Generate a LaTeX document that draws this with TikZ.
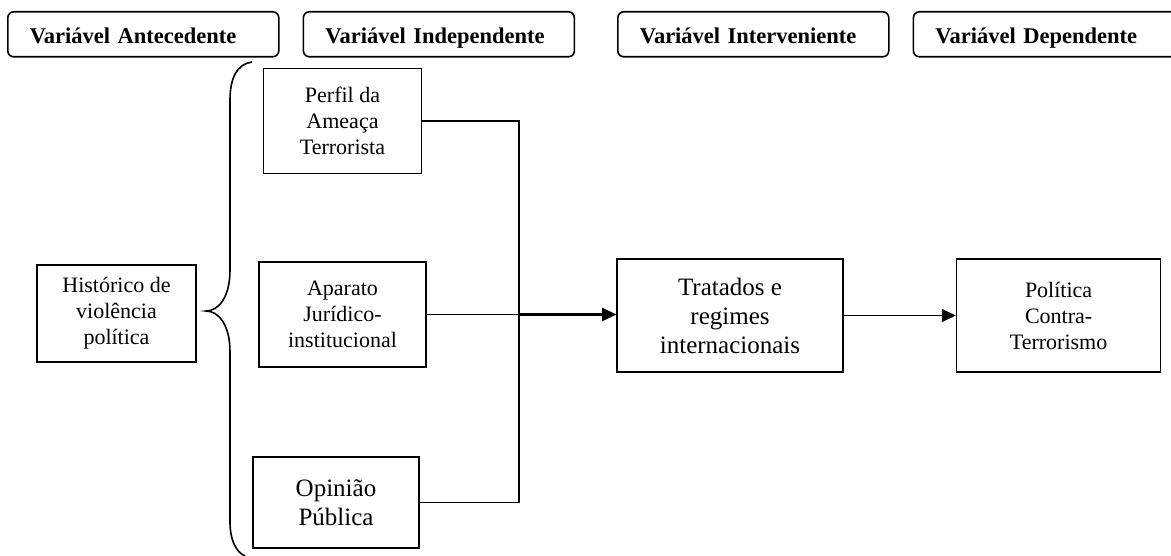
\documentclass[tikz,border=0pt]{standalone}
\usepackage{fontspec}
\setmainfont{Liberation Serif}
\usetikzlibrary{arrows.meta,positioning}
\begin{document}
\begin{tikzpicture}[x=1pt,y=-1pt,>={Triangle[length=14pt,width=13pt]},line width=1.6pt,
                    var node/.style={draw,align=center,inner sep=0pt,font=\fontsize{22}{26}\selectfont},
                    big node/.style={var node,font=\fontsize{25}{29}\selectfont},
                    head node/.style={draw,rounded corners=6pt,anchor=north west,inner xsep=22pt,inner ysep=0pt,
                      minimum height=45pt,text width=227pt,align=left,text height=21pt,text depth=2pt,
                      font=\fontsize{22.5}{26}\selectfont\bfseries}]
	\useasboundingbox (0,0) rectangle (1171,556);

	\node[head node](antecedente) at (7,11) {Variável Antecedente};
	\node[head node](independente)[right=23pt of antecedente] {Variável Independente};
	\node[head node](interveniente) at (617,11) {Variável Interveniente};
	\node[head node](dependente)[right=23pt of interveniente] {Variável Dependente};

	\node[var node,minimum width=159pt,minimum height=97pt](hist) at (116.5,313.5) {Histórico de\\violência\\política};
	\node[var node,minimum width=167pt,minimum height=105pt](aparato) at (342.5,314.5) {Aparato\\Jurídico-\\institucional};
	\node[var node,minimum width=158pt,minimum height=105pt](perfil)[above=87pt of aparato] {Perfil da\\Ameaça\\Terrorista};
	\node[big node,minimum width=166pt,minimum height=91pt](opiniao) at (336,502.5) {Opinião\\Pública};
	\node[big node,minimum width=226pt,minimum height=113pt](tratados) at (730,315.5) {Tratados e\\regimes\\internacionais};
	\node[var node,minimum width=204pt,minimum height=113pt](politica)[right=112pt of tratados] {Política\\Contra-\\Terrorismo};
	\coordinate (jn) at (519,314.5);

	\draw (252,62) .. controls (237,64) and (230,78) .. (230,100) -- (230,270)
	 .. controls (230,298) and (218,311) .. (206,311)
	 .. controls (218,311) and (230,324) .. (230,352) -- (230,522)
	 .. controls (230,540) and (236,552) .. (245,556);

	\draw (perfil.east) -| (jn) |- (opiniao.east);
	\draw (aparato.east) -- (jn);
	\draw[->,line width=2.6pt] (jn) -- (jn -| tratados.west);
	\draw[->] (tratados) -- (politica);
\end{tikzpicture}
\end{document}
